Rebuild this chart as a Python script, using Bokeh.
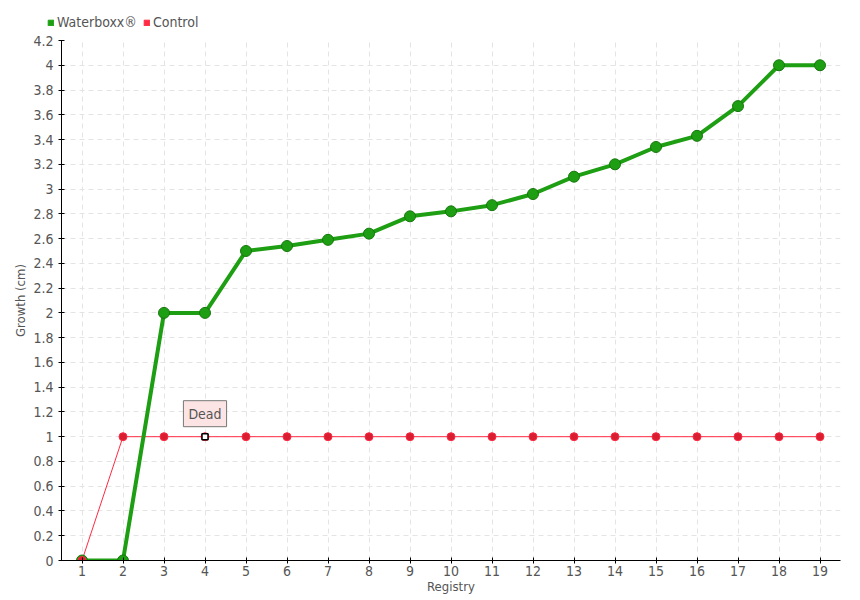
from bokeh.plotting import figure
from bokeh.layouts import column
from bokeh.models import FixedTicker, Legend, LegendItem, Label, ColumnDataSource, Range1d
from bokeh.embed import file_html
from bokeh.resources import INLINE

registry = list(range(1, 20))
waterboxx = [0, 0, 2.0, 2.0, 2.5, 2.54, 2.59, 2.64, 2.78, 2.82, 2.87, 2.96, 3.10, 3.20, 3.34, 3.43, 3.67, 4.0, 4.0]
control = [0, 1, 1, 1, 1, 1, 1, 1, 1, 1, 1, 1, 1, 1, 1, 1, 1, 1, 1]
y_ticks = [0, 0.2, 0.4, 0.6, 0.8, 1, 1.2, 1.4, 1.6, 1.8, 2, 2.2, 2.4, 2.6, 2.8, 3, 3.2, 3.4, 3.6, 3.8, 4, 4.2]
y_tick_labels = ["0", "0.2", "0.4", "0.6", "0.8", "1", "1.2", "1.4", "1.6", "1.8", "2", "2.2", "2.4", "2.6", "2.8", "3", "3.2", "3.4", "3.6", "3.8", "4", "4.2"]
series_names = ["Waterboxx®", "Control"]
dead_registry = 4
dead_value = 1
dead_text = "Dead"

FONT = "DejaVu Sans Condensed"
TXT = "#555555"
GREEN = "#1e9e12"
GREEN_DARK = "#17780e"
RED = "#ff2a44"
RED_DARK = "#d81e30"

p = figure(width=852, height=564, output_backend="svg", toolbar_location=None,
           x_range=Range1d(0.5, 19.5), y_range=Range1d(0, 4.2),
           min_border_left=61, min_border_right=12, min_border_top=8, min_border_bottom=32)
p.outline_line_color = None

p.xaxis.ticker = FixedTicker(ticks=registry)
p.yaxis.ticker = FixedTicker(ticks=y_ticks)
p.yaxis.major_label_overrides = {t: l for t, l in zip(y_ticks, y_tick_labels)}
for ax in (p.xaxis[0], p.yaxis[0]):
    ax.axis_line_color = "black"
    ax.major_tick_line_color = "black"
    ax.major_tick_in = 3
    ax.major_tick_out = 3
    ax.minor_tick_line_color = None
    ax.major_label_text_font = FONT
    ax.major_label_text_font_size = "14px"
    ax.major_label_text_color = TXT
    ax.axis_label_text_font = FONT
    ax.axis_label_text_font_size = "13px"
    ax.axis_label_text_color = TXT
    ax.axis_label_text_font_style = "normal"
p.xaxis.axis_label = "Registry"
p.yaxis.axis_label = "Growth (cm)"
p.xaxis.major_label_standoff = 2
p.xaxis.axis_label_standoff = 0
p.yaxis.axis_label_standoff = 2

for g in (p.xgrid[0], p.ygrid[0]):
    g.grid_line_color = "#e4e4e4"
    g.grid_line_dash = "5 4"
    g.grid_line_width = 1

src = ColumnDataSource(dict(x=registry, w=waterboxx, c=control))

p.line("x", "c", source=src, line_color=RED, line_width=1)
p.line("x", "w", source=src, line_color=GREEN, line_width=4)
p.scatter("x", "w", source=src, size=11, fill_color=GREEN, line_color=GREEN_DARK, line_width=1)
p.scatter("x", "c", source=src, size=8, fill_color=RED_DARK, line_color=RED, line_width=1)

p.scatter([dead_registry], [dead_value], marker="square", size=6, fill_color="white", line_color="black", line_width=1.5)

lbl = Label(x=dead_registry, y=dead_value, text=dead_text, x_offset=0, y_offset=10,
            text_align="center", text_baseline="bottom", text_font=FONT, text_font_size="14px",
            text_color=TXT, background_fill_color="#fde4e4", border_line_color="#777777",
            border_line_width=1, padding=5)
p.add_layout(lbl)

# legend strip above the chart
lf = figure(width=852, height=32, output_backend="svg", toolbar_location=None,
            x_axis_location=None, y_axis_location=None,
            x_range=Range1d(0, 1), y_range=Range1d(0, 1),
            min_border_left=0, min_border_right=0, min_border_top=0, min_border_bottom=0)
lf.outline_line_color = None
lf.xgrid.visible = False
lf.ygrid.visible = False
try:
    lf.frame_align = False
    loc_x = 47
except Exception:
    loc_x = 0
lw = lf.quad(left=[-10], right=[-9], bottom=[-10], top=[-9], fill_color=GREEN, line_color=GREEN)
lc = lf.quad(left=[-10], right=[-9], bottom=[-10], top=[-9], fill_color=RED, line_color=RED)
legend = Legend(items=[LegendItem(label=series_names[0], renderers=[lw]),
                       LegendItem(label=series_names[1], renderers=[lc])],
                orientation="horizontal", location=(loc_x, 2), padding=0, margin=0,
                spacing=6, glyph_width=7, glyph_height=7, label_standoff=3,
                border_line_color=None, background_fill_alpha=0,
                label_text_font=FONT, label_text_font_size="14px", label_text_color=TXT)
lf.add_layout(legend, "center")

layout = column(lf, p, spacing=0)
open("out.html", "w").write(file_html(layout, INLINE))
